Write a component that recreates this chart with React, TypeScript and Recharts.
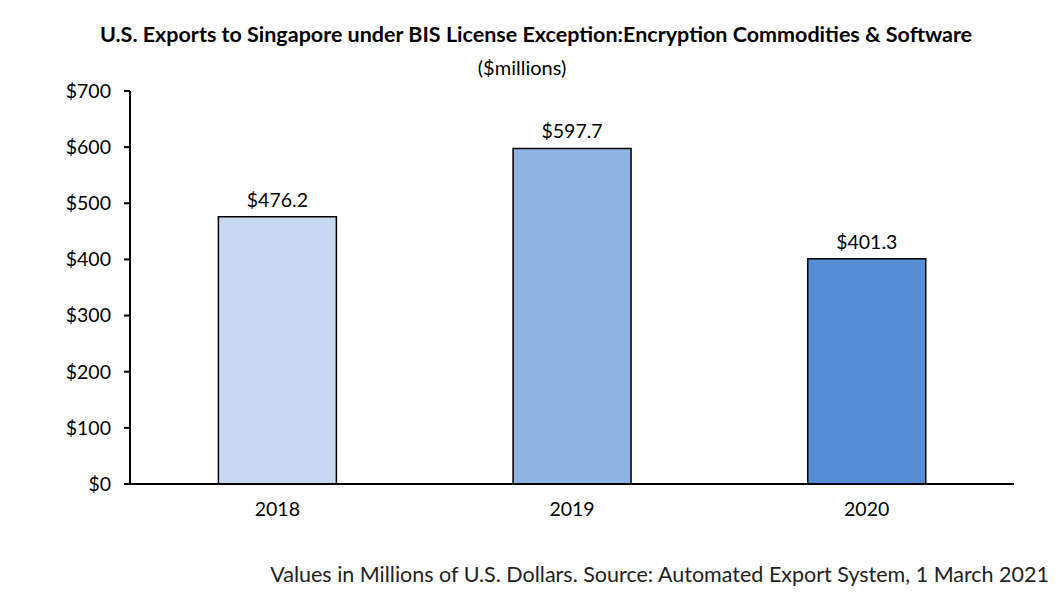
import { BarChart, Bar, XAxis, YAxis, Cell, LabelList } from 'recharts';

const years = ['2018', '2019', '2020'];
const exports = [476.2, 597.7, 401.3];
const barColors = ['#C6D9F1', '#8EB4E3', '#558ED5'];
const yTicks = [0, 100, 200, 300, 400, 500, 600, 700];
const edgeTicks = [0, 1, 2, 3];

const data = years.map((year, i) => ({ year, value: exports[i] }));

const font = 'Lato, "Open Sans", sans-serif';

export default function App() {
    return (
        <div
            style={{
                position: 'absolute',
                left: 0,
                top: 0,
                width: 1058,
                height: 594,
                background: '#fff',
                fontFamily: font,
            }}
        >
            <div
                style={{
                    position: 'absolute',
                    top: 21,
                    left: 0,
                    width: 1072,
                    textAlign: 'center',
                    fontWeight: 700,
                    fontSize: 21.5,
                    color: '#000',
                }}
            >
                U.S. Exports to Singapore under BIS License Exception:Encryption Commodities &amp; Software
            </div>
            <div
                style={{
                    position: 'absolute',
                    top: 55,
                    left: 0,
                    width: 1044,
                    textAlign: 'center',
                    fontSize: 20,
                    color: '#000',
                }}
            >
                ($millions)
            </div>
            <BarChart
                width={1058}
                height={594}
                data={data}
                margin={{ top: 91, right: 44, bottom: 75, left: 0 }}
                barCategoryGap="30%"
            >
                {/* boundary ticks like Excel: a numeric axis 0..3 under the category axis */}
                <XAxis
                    xAxisId="a"
                    type="number"
                    domain={[0, 3]}
                    ticks={edgeTicks}
                    tick={false}
                    tickSize={6}
                    height={5}
                    axisLine={{ stroke: '#000', strokeWidth: 2 }}
                    tickLine={{ stroke: '#000', strokeWidth: 2 }}
                />
                <XAxis
                    xAxisId="b"
                    dataKey="year"
                    axisLine={false}
                    tickLine={false}
                    tickSize={0}
                    tickMargin={13}
                    height={30}
                    tick={{ fill: '#000', fontSize: 19.5, fontFamily: font }}
                />
                <YAxis
                    domain={[0, 700]}
                    ticks={yTicks}
                    width={130}
                    tickFormatter={(v) => `$${v}`}
                    tickSize={6}
                    tickMargin={13}
                    axisLine={{ stroke: '#000', strokeWidth: 2 }}
                    tickLine={{ stroke: '#000', strokeWidth: 2 }}
                    tick={{ fill: '#000', fontSize: 19.5, fontFamily: font }}
                />
                <Bar
                    xAxisId="b"
                    dataKey="value"
                    stroke="#000"
                    strokeWidth={1.5}
                    isAnimationActive={false}
                >
                    {data.map((d, i) => (
                        <Cell key={d.year} fill={barColors[i]} />
                    ))}
                    <LabelList
                        dataKey="value"
                        position="top"
                        offset={10}
                        formatter={(v: number) => `$${v.toFixed(1)}`}
                        style={{ fill: '#000', fontSize: 19.5, fontFamily: font }}
                    />
                </Bar>
            </BarChart>
            <div
                style={{
                    position: 'absolute',
                    top: 561,
                    right: 9,
                    fontSize: 21.5,
                    color: '#222',
                    whiteSpace: 'nowrap',
                }}
            >
                Values in Millions of U.S. Dollars. Source: Automated Export System, 1 March 2021
            </div>
        </div>
    );
}
